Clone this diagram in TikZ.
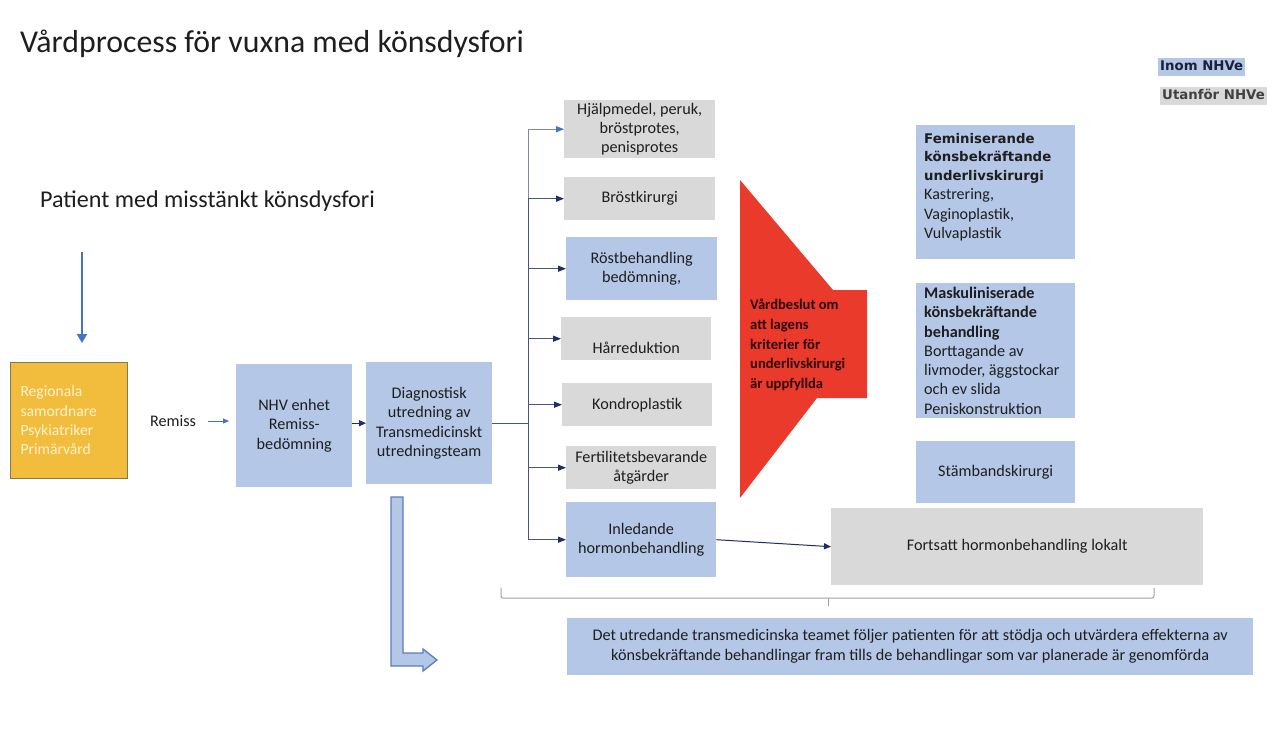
\documentclass[tikz,border=0pt]{standalone}
\usepackage{fontspec}
\setmainfont{Carlito}
\newfontfamily\dvfont{DejaVu Sans}
\usetikzlibrary{arrows.meta}
\definecolor{boxblue}{HTML}{B4C7E7}
\definecolor{boxgray}{HTML}{D9D9D9}
\definecolor{gold}{HTML}{F2BC3C}
\definecolor{goldedge}{HTML}{857755}
\definecolor{goldtext}{HTML}{FFF3CF}
\definecolor{redshape}{HTML}{EA3A2B}
\definecolor{redtext}{HTML}{2B0505}
\definecolor{arrowblue}{HTML}{4472C4}
\definecolor{navy}{HTML}{1F2D6B}
\definecolor{linegray}{HTML}{4A5580}
\definecolor{txt}{HTML}{1E1E1E}
\definecolor{bracegray}{HTML}{A0A0A0}
\definecolor{hollowedge}{HTML}{5B7DB8}
\definecolor{inomtext}{HTML}{1A1F3A}
\begin{document}
\begin{tikzpicture}[x=1pt,y=-1pt,
  every node/.style={text=txt},
  pbox/.style={inner sep=0pt, anchor=north west, align=center, font=\fontsize{16.2}{19.3}\selectfont},
  bbox/.style={pbox, fill=boxblue},
  gbox/.style={pbox, fill=boxgray},
  legend/.style={anchor=north west, inner xsep=2pt, inner ysep=2.5pt, text height=10pt, text depth=3pt, font=\dvfont\bfseries\fontsize{13.3}{15}\selectfont},
  branch/.style={draw=linegray, line width=1.1pt, -{Triangle[length=8pt,width=6pt,color=navy]}},
  navyarrow/.style={draw=navy, line width=1pt, -{Triangle[length=7pt,width=6pt,color=navy]}}
]
\fill[white] (0,0) rectangle (1280,742);
\useasboundingbox (0,0) rectangle (1280,742);

% titles
\node[anchor=base west, inner sep=0, font=\fontsize{31.8}{36}\selectfont] (title) at (20,52) {Vårdprocess för vuxna med könsdysfori};
\node[anchor=base west, inner sep=0, font=\fontsize{24.1}{28}\selectfont] (patient) at (40,207) {Patient med misstänkt könsdysfori};

% legend
\node[legend, fill=boxblue, text=inomtext] (inom) at (1158,58) {Inom NHVe};
\node[legend, fill=boxgray, text=txt!85] (utan) at (1160,87) {Utanför NHVe};

% patient arrow
\coordinate (pA) at (82,252);
\coordinate (pB) at (82,343);
\draw[arrowblue, line width=2pt, -{Triangle[length=9pt,width=10pt]}] (pA) -- (pB);

% left boxes
\node[pbox, fill=gold, draw=goldedge, line width=1pt, minimum width=117pt, minimum height=116pt, text width=97pt, align=left, inner xsep=10pt, text=goldtext, font=\fontsize{15.6}{19.3}\selectfont] (reg) at (10,362) {Regionala\\samordnare\\Psykiatriker\\Primärvård};
\node[inner sep=0, font=\fontsize{16.2}{19}\selectfont] (remiss) at (173,421) {Remiss};
\node[bbox, minimum width=116pt, minimum height=123pt] (nhv) at (236,364) {NHV enhet\\Remiss-\\bedömning};
\node[bbox, minimum width=126pt, minimum height=122pt] (diag) at (366,362) {Diagnostisk\\utredning av\\Transmedicinskt\\utredningsteam};

% middle boxes
\node[gbox, minimum width=151pt, minimum height=58pt] (hj) at (564,100) {Hjälpmedel, peruk,\\bröstprotes,\\penisprotes};
\node[gbox, minimum width=151pt, minimum height=43pt] (br) at (564,177) {Bröstkirurgi};
\node[bbox, minimum width=151pt, minimum height=63pt] (ro) at (566,237) {Röstbehandling\\bedömning,};
\node[gbox, minimum width=150pt, minimum height=43pt] (ha) at (561,317) {\vphantom{H}\\Hårreduktion};
\node[gbox, minimum width=150pt, minimum height=43pt] (ko) at (562,383) {Kondroplastik};
\node[gbox, minimum width=150pt, minimum height=43pt] (fe) at (566,446) {Fertilitetsbevarande\\åtgärder};
\node[bbox, minimum width=150pt, minimum height=75pt] (inl) at (566,502) {Inledande\\hormonbehandling};

% red decision shape
\fill[redshape] (740,180) -- (833,290) -- (867,290) -- (867,398) -- (817,398) -- (740,498) -- cycle;
\node[anchor=west, align=left, inner sep=0, font=\bfseries\fontsize{14.6}{19.6}\selectfont, text=redtext] (beslut) at (750,345) {Vårdbeslut om\\att lagens\\kriterier för\\underlivskirurgi\\är uppfyllda};

% right boxes
\node[bbox, minimum width=159pt, minimum height=134pt, text width=143pt, align=left, inner xsep=8pt, font=\fontsize{16}{19.5}\selectfont] (fem) at (916,125) {\spaceskip=0pt\xspaceskip=0pt{\dvfont\bfseries\fontsize{13.3}{18.3}\selectfont Feminiserande\\könsbekräftande\\underlivskirurgi\par}Kastrering,\\Vaginoplastik,\\Vulvaplastik\par\vspace*{10pt}};
\node[bbox, minimum width=159pt, minimum height=135pt, text width=143pt, align=left, inner xsep=8pt] (mask) at (916,283) {\spaceskip=0pt\xspaceskip=0pt\textbf{Maskuliniserade}\\\textbf{könsbekräftande}\\\textbf{behandling}\\Borttagande av\\livmoder, äggstockar\\och ev slida\\Peniskonstruktion};
\node[bbox, minimum width=159pt, minimum height=62pt] (stam) at (916,441) {Stämbandskirurgi};
\node[gbox, minimum width=372pt, minimum height=77pt] (fort) at (831,508) {Fortsatt hormonbehandling lokalt};
\node[bbox, minimum width=686pt, minimum height=57pt, font=\fontsize{16.2}{20}\selectfont] (follow) at (567,618) {Det utredande transmedicinska teamet följer patienten för att stödja och utvärdera effekterna av\\könsbekräftande behandlingar fram tills de behandlingar som var planerade är genomförda};

% connectors
\draw[arrowblue, line width=0.9pt, -{Triangle[length=6pt,width=5pt]}, shorten <=12pt, shorten >=7pt] (remiss.east) -- (remiss.east -| nhv.west);
\draw[navyarrow] (nhv.east |- diag.west) -- (diag.west);
\coordinate (junc) at ([xshift=36pt]diag.east);
\draw[draw=linegray, line width=1.3pt] (diag.east) -- (junc);
\draw[draw=linegray!70, line width=1.1pt, -{Triangle[length=8pt,width=6pt,color=arrowblue]}] (junc) |- (hj.west);
\foreach \b in {br,ro,ha,ko,fe,inl} \draw[branch] (junc) |- (\b.west);
\draw[navyarrow] (inl.east) -- (fort.west);

% hollow bent arrow
\filldraw[fill=boxblue, draw=hollowedge, line width=1.3pt] (391,497) -- (403,497) -- (403,653) -- (423,653) -- (423,649) -- (437,660) -- (423,671) -- (423,666) -- (391,666) -- cycle;

% bracket
\draw[bracegray, line width=1pt, rounded corners=2pt] (501,588) -- (501,598) -- (1154,598) -- (1154,588);
\draw[bracegray, line width=1pt] (828,598) -- (828,606);
\end{tikzpicture}
\end{document}
